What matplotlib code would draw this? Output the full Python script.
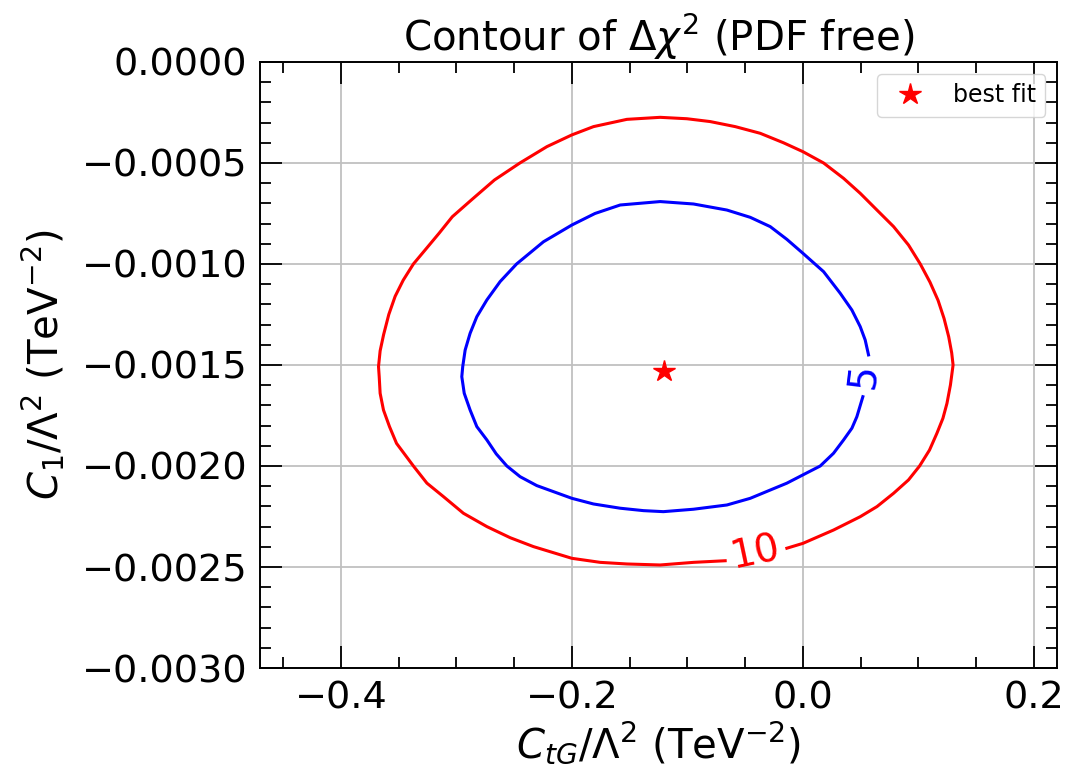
import numpy as np
import matplotlib
matplotlib.use("Agg")
from matplotlib import pyplot as plt

# best fit point
best_x = -0.12
best_y = -0.00153

# delta chi2 = 10 contour (starts right of the "10" label, going round)
c10_x = [-0.0139, 0.0, 0.0265, 0.0496, 0.0641, 0.0785, 0.0914, 0.101, 0.1096, 0.116,
         0.1212, 0.1247, 0.1277, 0.1300, 0.1288, 0.1262, 0.1222, 0.1170, 0.1100,
         0.1016, 0.0914, 0.0785, 0.0641, 0.0496, 0.0352, 0.0179, 0.0, -0.0168, -0.037,
         -0.0586, -0.0803, -0.1004, -0.1236, -0.1524, -0.1813, -0.2, -0.2216, -0.245,
         -0.267, -0.287, -0.3035, -0.315, -0.3255, -0.3372, -0.346, -0.353, -0.3585,
         -0.363, -0.366, -0.3674, -0.3668, -0.366, -0.3631, -0.3579, -0.3518, -0.3372,
         -0.3255, -0.3111, -0.2939, -0.2736, -0.2534, -0.2333, -0.2, -0.1755, -0.1524,
         -0.1236, -0.0947, -0.0673]
c10_y = [-0.002407, -0.002383, -0.002317, -0.002251, -0.002201, -0.002135, -0.002069,
         -0.002, -0.001921, -0.001838, -0.001764, -0.00169, -0.001599, -0.0015,
         -0.00144, -0.00136, -0.00127, -0.00118, -0.00109, -0.001, -0.000906,
         -0.000815, -0.000733, -0.00065, -0.000576, -0.0005, -0.000444, -0.0004, -0.000353,
         -0.00032, -0.000295, -0.000281, -0.000274, -0.000284, -0.00032, -0.000361,
         -0.000419, -0.0005, -0.000584, -0.000683, -0.000766, -0.000848, -0.00092, -0.001,
         -0.00108, -0.00116, -0.00125, -0.00135, -0.00143, -0.001508, -0.001558, -0.00164,
         -0.001723, -0.001805, -0.001888, -0.002, -0.002085, -0.002152, -0.002234, -0.0023,
         -0.002355, -0.002399, -0.002457, -0.002477, -0.002485, -0.00249, -0.002477,
         -0.002469]

# delta chi2 = 5 contour (starts above the "5" label, going round)
c5_x = [0.0568, 0.0539, 0.0496, 0.0424, 0.0323, 0.0179, 0.0, -0.0139, -0.0283, -0.0456,
        -0.0658, -0.0947, -0.1236, -0.1582, -0.18, -0.2, -0.2246, -0.2479, -0.2621, -0.2736,
        -0.2823, -0.2881, -0.2924, -0.2945, -0.2953, -0.2932, -0.2881, -0.2823, -0.2736,
        -0.2655, -0.2563, -0.2448, -0.2304, -0.2, -0.1813, -0.1582, -0.138, -0.1208,
        -0.0947, -0.0658, -0.0456, -0.0283, -0.0139, 0.0, 0.015, 0.0265, 0.0352, 0.0424,
        0.0467, 0.0519]
c5_y = [-0.00145, -0.001376, -0.00131, -0.001228, -0.001145, -0.001038, -0.000947,
        -0.000878, -0.000815, -0.000769, -0.000733, -0.000703, -0.000691, -0.000708,
        -0.00075, -0.000807, -0.00089, -0.001, -0.001087, -0.001178, -0.001261, -0.001343,
        -0.001426, -0.001508, -0.001558, -0.00164, -0.001723, -0.001805, -0.001871,
        -0.00194, -0.002, -0.002053, -0.002097, -0.00216, -0.002188, -0.002209, -0.002221,
        -0.002226, -0.002214, -0.002193, -0.00216, -0.002119, -0.002085, -0.002044, -0.002,
        -0.001937, -0.001871, -0.001813, -0.001756, -0.001657]

x_ticks = [-0.4, -0.2, 0.0, 0.2]
x_ticklabels = ['\u22120.4', '\u22120.2', '0.0', '0.2']
y_ticks = [-0.003, -0.0025, -0.002, -0.0015, -0.001, -0.0005, 0.0]
y_ticklabels = ['\u22120.0030', '\u22120.0025', '\u22120.0020', '\u22120.0015',
                '\u22120.0010', '\u22120.0005', '0.0000']

fig = plt.figure(figsize=(10.66, 7.68), dpi=100)
ax = fig.add_axes([0.2439, 0.1302, 0.7477, 0.7891])

ax.plot(c5_x, c5_y, color='blue', lw=2.2, zorder=3, solid_joinstyle='round')
ax.plot(c10_x, c10_y, color='red', lw=2.2, zorder=3, solid_joinstyle='round')
ax.text(0.0521, -0.001554, '5', color='blue', fontsize=28, rotation=83,
        ha='center', va='center', rotation_mode='anchor', zorder=4)
ax.text(-0.0414, -0.002429, '10', color='red', fontsize=28, rotation=12,
        ha='center', va='center', rotation_mode='anchor', zorder=4)

ax.plot(best_x, best_y, '*', color='red', markersize=16, ls='none', label='best fit', zorder=5)

ax.set_xlim(-0.47, 0.22)
ax.set_ylim(-0.003, 0.0)
ax.set_xticks(x_ticks)
ax.set_xticklabels(x_ticklabels)
ax.set_yticks(y_ticks)
ax.set_yticklabels(y_ticklabels)
ax.xaxis.set_minor_locator(matplotlib.ticker.MultipleLocator(0.05))
ax.yaxis.set_minor_locator(matplotlib.ticker.MultipleLocator(0.0001))
ax.tick_params(which='both', direction='in', top=True, right=True, width=1.3, labelsize=27.5)
ax.tick_params(which='major', length=16, pad=9)
ax.tick_params(which='minor', length=8)
for s in ax.spines.values():
    s.set_linewidth(1.4)
ax.grid(True, color='#c0c0c0', lw=1.3, zorder=0)

ax.set_xlabel(r'$C_{tG}/\Lambda^2$ (TeV$^{-2}$)', fontsize=29, labelpad=2)
ax.set_ylabel(r'$C_1/\Lambda^2$ (TeV$^{-2}$)', fontsize=29, labelpad=10)
ax.set_title(r'Contour of $\Delta\chi^2$ (PDF free)', fontsize=29, pad=6)
ax.legend(loc='upper right', fontsize=17, borderpad=0.4)

fig.savefig('out.png', dpi=100)
